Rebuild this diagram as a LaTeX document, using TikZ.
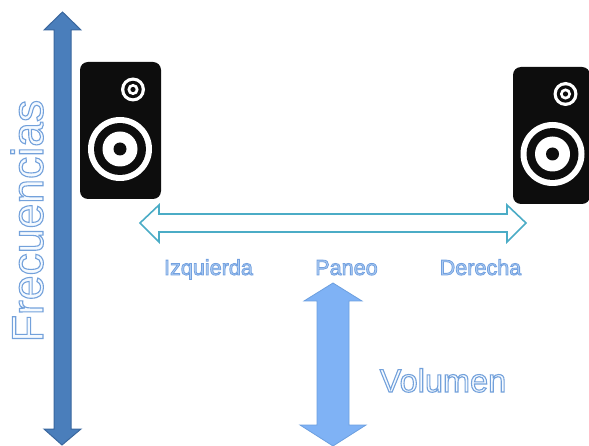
\documentclass[tikz,border=0pt]{standalone}
\usepackage{fontspec}
\setmainfont{Liberation Sans}
\definecolor{darkblue}{HTML}{4A7EBB}
\definecolor{darkedge}{HTML}{3A679E}
\definecolor{lightblue}{HTML}{7FB2F5}
\definecolor{lightedge}{HTML}{6C9FDF}
\definecolor{teal}{HTML}{4BACC6}
\definecolor{spk}{HTML}{0D0D0D}
\newcommand{\outlined}[2]{\special{pdf:code q 2 Tr #1 w 0.45 0.63 0.86 RG 0.96 0.98 1 rg}#2\special{pdf:code Q}}
\newcommand{\smalloutlined}[1]{\special{pdf:code q 2 Tr 0.8 w 0.45 0.63 0.88 RG 0.68 0.80 0.95 rg}#1\special{pdf:code Q}}
\tikzset{
  spkbody/.style={fill=spk, rounded corners=8pt},
  white disc/.style={fill=white},
  black disc/.style={fill=spk},
  small label/.style={inner sep=0pt, anchor=base, font=\fontsize{21.6}{22}\selectfont},
}
\newcommand{\speaker}[7]{%
  \path[spkbody] (#1,#2) rectangle (#3,#4);
  \fill[white disc] (#5,#6) circle (12);
  \fill[black disc] (#5,#6) circle (8.7);
  \fill[white disc] (#5,#6) circle (5.6);
  \fill[black disc] (#5,#6) circle (2.6);
  \fill[white disc] (#5-13,#7) circle (32);
  \fill[black disc] (#5-13,#7) circle (26);
  \fill[white disc] (#5-13,#7) circle (17.5);
  \fill[black disc] (#5-13,#7) circle (6.5);
}
\begin{document}
\begin{tikzpicture}[x=1pt,y=-1pt]
\useasboundingbox (0,0) rectangle (589,446);
% frequency arrow
\draw[darkedge, line width=1pt, fill=darkblue]
  (62.5,12) -- (81,30) -- (71,30) -- (71,429) -- (81,429) -- (62,445) -- (44,429)
  -- (54,429) -- (54,30) -- (44,30) -- cycle;
% speakers
\speaker{80}{62}{161}{199}{133}{89.5}{149}
\speaker{513}{67}{590}{204}{565.5}{94}{154}
% pan arrow
\draw[teal, line width=1.6pt, fill=white, line join=miter]
  (140,223) -- (159,205) -- (159,214) -- (507,214) -- (507,205) -- (526,223)
  -- (507,242) -- (507,232) -- (159,232) -- (159,242) -- cycle;
% volume arrow
\draw[lightedge, line width=0.8pt, fill=lightblue]
  (333,283) -- (362,301) -- (349,301) -- (349,425) -- (366,425) -- (333,446) -- (300,425)
  -- (317,425) -- (317,301) -- (304,301) -- cycle;
% labels
\node[small label] (izq) at (208.5,275) {\smalloutlined{Izquierda}};
\node[small label] (pan) at (346.5,275) {\smalloutlined{Paneo}};
\node[small label] (der) at (480.5,275) {\smalloutlined{Derecha}};
\node[inner sep=0pt, anchor=base, font=\fontsize{32.5}{33}\selectfont] (vol) at (443,392) {\outlined{1.1}{Volumen}};
\node[inner sep=0pt, anchor=base, rotate=90, font=\fontsize{44.5}{45}\selectfont] (fre) at (43,221) {\outlined{1.1}{Frecuencias}};
\end{tikzpicture}
\end{document}
